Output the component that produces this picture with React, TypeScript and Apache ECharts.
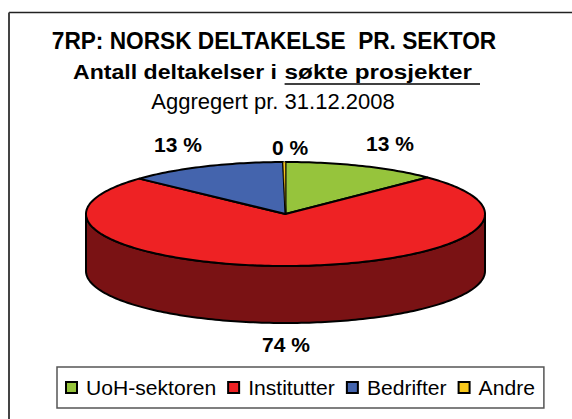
import React, { useEffect, useRef } from "react";
import * as echarts from "echarts";

const categories = ["UoH-sektoren", "Institutter", "Bedrifter", "Andre"];
const values = [12.6, 74.3, 12.9, 0.2];
const topColors = ["#96c43c", "#ee2224", "#4464ad", "#f8c81c"];
const wallColors = ["#4b621e", "#7a1214", "#223256", "#7c640e"];
const percentLabels = ["13 %", "74 %", "13 %", "0 %"];

const CX = 285.5, CY = 214, RX = 199.5, RY = 52, DEPTH = 57;
const FONT = '"Liberation Sans", Arial, sans-serif';
const total = values.reduce((a, b) => a + b, 0);

function pt(a: number, dy = 0): number[] {
  return [CX + RX * Math.sin(a), CY - RY * Math.cos(a) + dy];
}
function arcPts(a0: number, a1: number, dy = 0): number[][] {
  const n = Math.max(2, Math.ceil(Math.abs(a1 - a0) / 0.02));
  const out: number[][] = [];
  for (let i = 0; i <= n; i++) out.push(pt(a0 + ((a1 - a0) * i) / n, dy));
  return out;
}

function makeRender(index: number) {
  return (_params: any, api: any) => {
    const before = values.slice(0, index).reduce((a, b) => a + b, 0);
    const a0 = (before / total) * 2 * Math.PI;
    const a1 = a0 + (Number(api.value(0)) / total) * 2 * Math.PI;
    const children: any[] = [];
    const w0 = Math.max(a0, Math.PI / 2);
    const w1 = Math.min(a1, (3 * Math.PI) / 2);
    if (w1 > w0) {
      children.push({
        type: "polygon",
        shape: { points: [...arcPts(w0, w1), ...arcPts(w1, w0, DEPTH)] },
        style: { fill: wallColors[index], stroke: "#000", lineWidth: 2, lineJoin: "round" },
      });
    }
    children.push({
      type: "polygon",
      shape: { points: [[CX, CY], ...arcPts(a0, a1)] },
      style: { fill: topColors[index], stroke: "#000", lineWidth: index === 3 ? 0.5 : 2, lineJoin: "round" },
    });
    return { type: "group", children };
  };
}

function txt(text: string, x: number, y: number, size: number, bold: boolean, scaleX = 1, align = "center") {
  return {
    type: "text",
    x,
    y,
    scaleX,
    z: 20,
    style: {
      text,
      x: 0,
      y: 0,
      align,
      verticalAlign: "middle",
      fill: "#000",
      font: `${bold ? "bold " : ""}${size}px ${FONT}`,
    },
  };
}

const labelPositions = [
  [390, 143],
  [286, 344],
  [178, 144],
  [290, 147],
];

export default function App() {
  const ref = useRef<HTMLDivElement>(null);
  useEffect(() => {
    const chart = echarts.init(ref.current!, undefined, { renderer: "svg" });
    chart.setOption({
      animation: false,
      backgroundColor: "#fff",
      legend: {
        data: categories.map((name, i) => ({
          name,
          icon: "rect",
          itemStyle: { color: topColors[i], borderColor: "#000", borderWidth: 2, opacity: 1 },
        })),
        left: 57,
        top: 367,
        orient: "horizontal",
        itemWidth: 11,
        itemHeight: 11,
        itemGap: 11,
        padding: [10, 9, 10, 8],
        borderColor: "#555",
        borderWidth: 1.5,
        selectedMode: false,
        textStyle: { fontFamily: FONT, fontSize: 21.1, color: "#000", padding: [0, 0, 0, 4] },
      },
      series: categories.map((name, i) => ({
        type: "custom",
        name,
        coordinateSystem: "none",
        silent: true,
        data: [[values[i]]],
        itemStyle: { color: topColors[i], borderColor: "#000", borderWidth: 2 },
        renderItem: makeRender(i),
      })),
      graphic: [
        { type: "line", shape: { x1: 9, y1: 12.5, x2: 572, y2: 12.5 }, style: { stroke: "#222", lineWidth: 1.5 } },
        { type: "line", shape: { x1: 9, y1: 12.5, x2: 9, y2: 419 }, style: { stroke: "#444", lineWidth: 2 } },
        txt("7RP: NORSK DELTAKELSE  PR. SEKTOR", 274, 41, 24, true, 0.945),
        txt("Antall deltakelser i ", 73, 72, 21, true, 1.1, "left"),
        txt("søkte prosjekter ", 284.6, 72, 21, true, 1.155, "left"),
        { type: "line", shape: { x1: 284.6, y1: 84, x2: 480, y2: 84 }, style: { stroke: "#000", lineWidth: 1.5 } },
        txt("Aggregert pr. 31.12.2008", 273, 101.5, 22, false, 1),
        ...percentLabels.map((l, i) => txt(l, labelPositions[i][0], labelPositions[i][1], 21, true)),
      ],
    });
    return () => chart.dispose();
  }, []);
  return <div ref={ref} style={{ position: "fixed", left: 0, top: 0, width: 572, height: 419 }} />;
}
